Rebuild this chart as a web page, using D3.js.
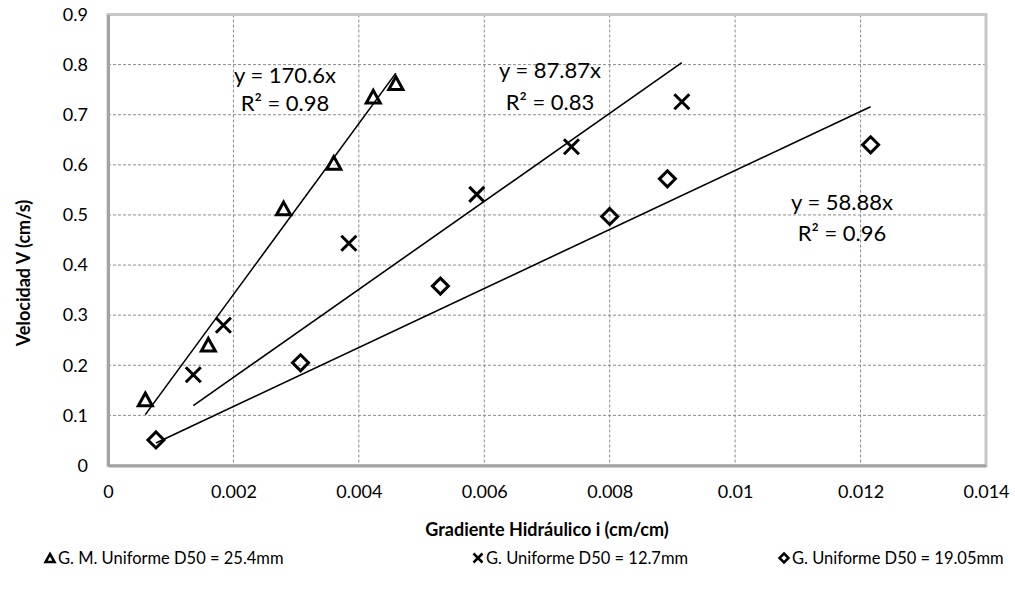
<!DOCTYPE html>
<html>
<head>
<meta charset="utf-8">
<script src="https://cdn.jsdelivr.net/npm/d3@7"></script>
<style>
  html, body { margin: 0; padding: 0; background: #fff; }
  svg { display: block; font-family: Lato, "Open Sans", sans-serif; }
</style>
</head>
<body>
<svg id="chart" width="1015" height="597"></svg>
<script>
// Hydraulic gradient (cm/cm) vs. velocity (cm/s) for three gravel samples
const seriesNames = ["G. M. Uniforme D50 = 25.4mm", "G. Uniforme D50 = 12.7mm", "G. Uniforme D50 = 19.05mm"];
const seriesSymbols = ["triangle", "cross", "diamond"];

const gradA = [0.000595, 0.0016, 0.0028, 0.0036, 0.00423, 0.00459];
const velA  = [0.132, 0.241, 0.513, 0.604, 0.736, 0.763];

const gradB = [0.00136, 0.00184, 0.00384, 0.00588, 0.00739, 0.00915];
const velB  = [0.181, 0.280, 0.4435, 0.541, 0.636, 0.726];

const gradC = [0.000765, 0.00307, 0.0053, 0.0080, 0.00892, 0.01216];
const velC  = [0.051, 0.205, 0.358, 0.497, 0.572, 0.640];

// Linear fits through the origin, as labelled
const slopes = [170.6, 87.87, 58.88];
const r2 = ["0.98", "0.83", "0.96"];

const xTicks = [0, 0.002, 0.004, 0.006, 0.008, 0.01, 0.012, 0.014];
const yTicks = [0, 0.1, 0.2, 0.3, 0.4, 0.5, 0.6, 0.7, 0.8, 0.9];

const xTitle = "Gradiente Hidráulico i (cm/cm)";
const yTitle = "Velocidad V (cm/s)";

const series = [
  { name: seriesNames[0], symbol: seriesSymbols[0], x: gradA, y: velA, slope: slopes[0], r2: r2[0] },
  { name: seriesNames[1], symbol: seriesSymbols[1], x: gradB, y: velB, slope: slopes[1], r2: r2[1] },
  { name: seriesNames[2], symbol: seriesSymbols[2], x: gradC, y: velC, slope: slopes[2], r2: r2[2] }
];

const svg = d3.select("#chart");
const plot = { left: 108, right: 986, top: 14.5, bottom: 465.5 };

const x = d3.scaleLinear().domain([0, 0.014]).range([plot.left, plot.right]);
const y = d3.scaleLinear().domain([0, 0.9]).range([plot.bottom, plot.top]);

// dashed grid
const grid = svg.append("g");
grid.selectAll("line.gx").data(xTicks.slice(1, -1)).join("line")
  .attr("x1", d => x(d)).attr("x2", d => x(d))
  .attr("y1", plot.top).attr("y2", plot.bottom)
  .attr("stroke", "#8c8c8c").attr("stroke-width", 1).attr("stroke-dasharray", "3,2");
grid.selectAll("line.gy").data(yTicks.slice(1, -1)).join("line")
  .attr("x1", plot.left).attr("x2", plot.right)
  .attr("y1", d => y(d)).attr("y2", d => y(d))
  .attr("stroke", "#8c8c8c").attr("stroke-width", 1).attr("stroke-dasharray", "3,2");

// plot frame
svg.append("rect")
  .attr("x", plot.left).attr("y", plot.top)
  .attr("width", plot.right - plot.left).attr("height", plot.bottom - plot.top)
  .attr("fill", "none").attr("stroke", "#c6c6c6").attr("stroke-width", 3);

// axes
const xAxis = d3.axisBottom(x).tickValues(xTicks).tickSize(0).tickPadding(20)
  .tickFormat(d => d3.format("")(+d.toFixed(3)));
const yAxis = d3.axisLeft(y).tickValues(yTicks).tickSize(0).tickPadding(20)
  .tickFormat(d => d3.format("")(+d.toFixed(1)));

const gx = svg.append("g").attr("transform", `translate(0,${plot.bottom})`).call(xAxis);
const gy = svg.append("g").attr("transform", `translate(${plot.left},0)`).call(yAxis);
[gx, gy].forEach(g => {
  g.select(".domain").attr("stroke", "#a3a3a3").attr("stroke-width", 3);
  g.selectAll("text").attr("font-family", "Lato, sans-serif").attr("font-size", 18).attr("fill", "#000");
});
gx.selectAll("text").attr("dy", "0.71em");

// axis titles
svg.append("text")
  .attr("x", (plot.left + plot.right) / 2).attr("y", 536)
  .attr("text-anchor", "middle").attr("font-weight", "bold").attr("font-size", 18)
  .text(xTitle);
svg.append("text")
  .attr("transform", "translate(30,273) rotate(-90)")
  .attr("text-anchor", "middle").attr("font-weight", "bold").attr("font-size", 18)
  .text(yTitle);

// symbol paths
function symbolPath(kind, s) {
  if (kind === "triangle") {
    const h = s * 0.9;
    return `M0,${-h / 2}L${s / 2},${h / 2}L${-s / 2},${h / 2}Z`;
  }
  if (kind === "cross") {
    const r = s / 2;
    return `M${-r},${-r}L${r},${r}M${r},${-r}L${-r},${r}`;
  }
  const r = s / 2;
  return `M0,${-r}L${r},0L0,${r}L${-r},0Z`;
}
const markerSize = { triangle: 14, cross: 15, diamond: 16 };

// trend lines
const lineGen = d3.line().x(d => x(d[0])).y(d => y(d[1]));
svg.append("g").selectAll("path").data(series).join("path")
  .attr("d", s => {
    const xs = d3.extent(s.x);
    return lineGen(xs.map(v => [v, s.slope * v]));
  })
  .attr("fill", "none").attr("stroke", "#000").attr("stroke-width", 1.6);

// data markers
series.forEach(s => {
  svg.append("g").selectAll("path").data(s.x.map((v, i) => [v, s.y[i]])).join("path")
    .attr("transform", d => `translate(${x(d[0])},${y(d[1])})`)
    .attr("d", symbolPath(s.symbol, markerSize[s.symbol]))
    .attr("fill", "none").attr("stroke", "#000").attr("stroke-width", 3)
    .attr("stroke-linejoin", "miter");
});

// equation labels
const eqPos = [[285, 75, 103], [550, 70, 102], [842, 202, 233]];
series.forEach((s, i) => {
  const g = svg.append("g").attr("font-size", 22).attr("text-anchor", "middle");
  g.append("text").attr("x", eqPos[i][0]).attr("y", eqPos[i][1]).attr("dy", "0.35em")
    .text(`y = ${s.slope}x`);
  g.append("text").attr("x", eqPos[i][0]).attr("y", eqPos[i][2]).attr("dy", "0.35em")
    .text(`R² = ${s.r2}`);
});

// legend
const legendX = [50, 478, 784];
const legend = svg.append("g");
series.forEach((s, i) => {
  const g = legend.append("g").attr("transform", `translate(${legendX[i]},558)`);
  g.append("path").attr("d", symbolPath(s.symbol, 9))
    .attr("fill", "none").attr("stroke", "#000").attr("stroke-width", 2.5);
  g.append("text").attr("x", 8).attr("dy", "0.35em").attr("font-size", 16.5).text(s.name);
});
</script>
</body>
</html>
